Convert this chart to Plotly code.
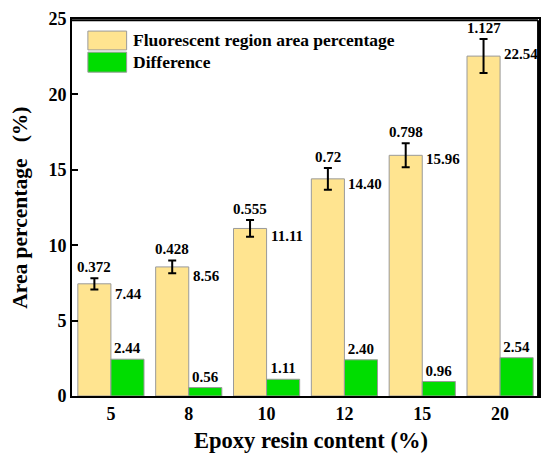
import plotly.graph_objects as go

categories = ["5", "8", "10", "12", "15", "20"]
area_pct = [7.44, 8.56, 11.11, 14.40, 15.96, 22.54]
area_err = [0.372, 0.428, 0.555, 0.72, 0.798, 1.127]
difference = [2.44, 0.56, 1.11, 2.40, 0.96, 2.54]
area_text = ["7.44", "8.56", "11.11", "14.40", "15.96", "22.54"]
err_text = ["0.372", "0.428", "0.555", "0.72", "0.798", "1.127"]
diff_text = ["2.44", "0.56", "1.11", "2.40", "0.96", "2.54"]

FONT = "Liberation Serif"
YELLOW = "#FFE490"
GREEN = "#00DD00"

# per-label vertical nudges (px) for value labels beside the yellow bars
value_label_shift = [-10, -9, -8, -5, -4, 2]

fig = go.Figure()
fig.add_trace(go.Bar(
    x=categories, y=area_pct, name="Fluorescent region area percentage",
    marker=dict(color=YELLOW, line=dict(color="#9A9A9A", width=1)),
    error_y=dict(type="data", array=area_err, visible=True, color="black",
                 thickness=2, width=4),
    showlegend=False,
))
fig.add_trace(go.Bar(
    x=categories, y=difference, name="Difference",
    marker=dict(color=GREEN, line=dict(color="#9A9A9A", width=1)),
    text=diff_text, textposition="outside",
    textfont=dict(family=FONT, size=15, color="black", weight="bold"),
    cliponaxis=False, showlegend=False,
))

annotations = []
for i, c in enumerate(categories):
    annotations.append(dict(
        x=i, y=area_pct[i], xref="x", yref="y", text=area_text[i],
        showarrow=False, xanchor="left", yanchor="middle", xshift=2,
        yshift=value_label_shift[i],
        font=dict(family=FONT, size=15, color="black", weight="bold"),
    ))
    annotations.append(dict(
        x=i, y=area_pct[i] + area_err[i], xref="x", yref="y", text=err_text[i],
        showarrow=False, xanchor="center", yanchor="bottom", xshift=-16.5,
        yshift=1,
        font=dict(family=FONT, size=15, color="black", weight="bold"),
    ))

# axis titles
annotations.append(dict(x=0.511, y=-0.117, xref="paper", yref="paper",
                        text="Epoxy resin content (%)", showarrow=False,
                        xanchor="center", yanchor="middle",
                        font=dict(family=FONT, size=22.5, color="black", weight="bold")))
annotations.append(dict(x=-0.113, y=0.5, xref="paper", yref="paper",
                        text="Area percentage\u2002 (%)", showarrow=False,
                        textangle=-90, xanchor="center", yanchor="middle",
                        font=dict(family=FONT, size=21.5, color="black", weight="bold")))

# custom legend
legend_items = [("Fluorescent region area percentage", YELLOW, 0.968, 0.918),
                ("Difference", GREEN, 0.912, 0.859)]
shapes = []
for label, col, y1, y0 in legend_items:
    shapes.append(dict(type="rect", xref="paper", yref="paper",
                       x0=0.034, x1=0.117, y0=y0, y1=y1,
                       fillcolor=col, line=dict(color="#9A9A9A", width=1)))
    annotations.append(dict(x=0.126, y=(y0 + y1) / 2, xref="paper", yref="paper",
                            text=label, showarrow=False, xanchor="left",
                            yanchor="middle",
                            font=dict(family=FONT, size=17.5, color="black",
                                      weight="bold")))

# plot frame (top and right edges), kept just inside the plot area
shapes.append(dict(type="line", xref="paper", yref="paper",
                   x0=0, x1=0.998, y0=0.997, y1=0.997,
                   line=dict(color="black", width=2), layer="above"))
shapes.append(dict(type="line", xref="paper", yref="paper",
                   x0=0.998, x1=0.998, y0=0, y1=0.997,
                   line=dict(color="black", width=2), layer="above"))

# the page body adds an 8px margin on every side, so the figure is sized
# to fit inside the 550x466 window without scrolling
fig.update_layout(
    width=534, height=450,
    margin=dict(l=64, r=1, t=10, b=62),
    paper_bgcolor="white", plot_bgcolor="white",
    barmode="group", bargap=0.15, bargroupgap=0,
    font=dict(family=FONT, color="black"),
    annotations=annotations, shapes=shapes,
    xaxis=dict(
        type="category", range=[-0.5, 5.5],
        showline=True, linecolor="black", linewidth=2, mirror=True,
        ticks="", showgrid=False,
        tickfont=dict(family=FONT, size=18, color="black", weight="bold"),
    ),
    yaxis=dict(
        range=[0, 25], dtick=5,
        showline=True, linecolor="black", linewidth=2, mirror=True,
        ticks="inside", ticklen=6, tickwidth=2, tickcolor="black",
        showgrid=False, zeroline=False,
        tickfont=dict(family=FONT, size=18, color="black", weight="bold"),
    ),
)

fig.write_html("out.html")
